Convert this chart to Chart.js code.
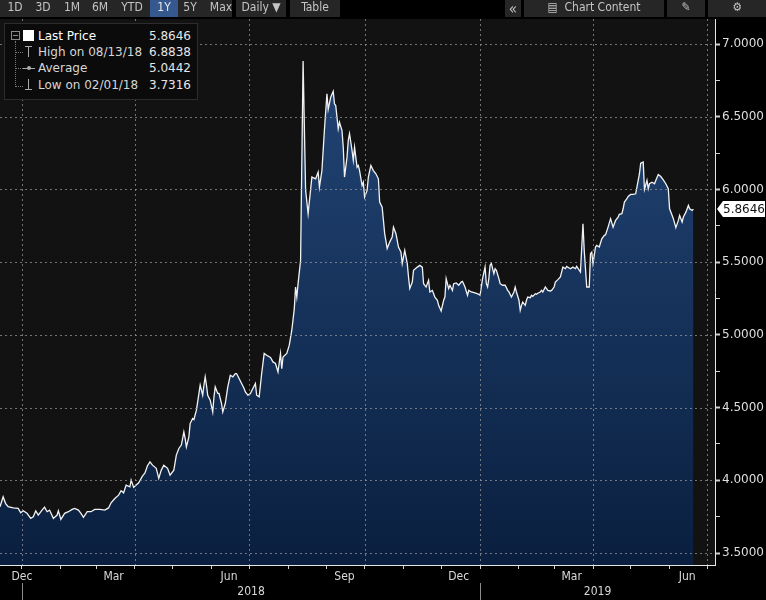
<!DOCTYPE html>
<html>
<head>
<meta charset="utf-8">
<script src="https://cdn.jsdelivr.net/npm/chart.js@4.4.1/dist/chart.umd.min.js"></script>
<style>
  html, body { margin: 0; padding: 0; background: #000; }
  #wrap { position: relative; width: 766px; height: 600px; overflow: hidden; }
  #chart { position: absolute; left: 0; top: 0; }
  .tb { position: absolute; top: 0; height: 17px; line-height: 17px; font: 12px 'Liberation Sans Narrow', 'DejaVu Sans Condensed', sans-serif; color: #c4c4c4; text-align: center; background: #262626; }
  .tb.on { background: #35588f; color: #e8e8e8; }
  #legend { position: absolute; left: 4px; top: 23px; width: 192px; height: 75px; background: #0b0b0b; border: 1px solid #2c2c2c; font: 12px 'DejaVu Sans', sans-serif; color: #d6d6d6; }
  #legend .row { position: absolute; left: 33px; right: 6px; height: 16px; line-height: 16px; }
  #legend .row span { position: absolute; right: 0; top: 0; color: #e6e6e6; }
  #legend .ic { position: absolute; }
</style>
</head>
<body>
<div id="wrap">
  <canvas id="chart" width="766" height="600"></canvas>

  <div class="tb" style="left:0;width:232px"></div>
  <div class="tb" style="left:5px;width:20px;background:none">1D</div>
  <div class="tb" style="left:33px;width:20px;background:none">3D</div>
  <div class="tb" style="left:62px;width:20px;background:none">1M</div>
  <div class="tb" style="left:90px;width:20px;background:none">6M</div>
  <div class="tb" style="left:120px;width:24px;background:none">YTD</div>
  <div class="tb on" style="left:150px;width:28px">1Y</div>
  <div class="tb" style="left:180px;width:20px;background:none">5Y</div>
  <div class="tb" style="left:208px;width:26px;background:none">Max</div>
  <div class="tb" style="left:236px;width:50px">Daily &#9660;</div>
  <div class="tb" style="left:290px;width:50px">Table</div>
  <div class="tb" style="left:505px;width:16px;font-size:15px">&laquo;</div>
  <div class="tb" style="left:524px;width:140px">&#9636;&nbsp; Chart Content</div>
  <div class="tb" style="left:667px;width:38px">&#9998;</div>
  <div class="tb" style="left:708px;width:58px">&#9881;</div>

  <div id="legend">
    <div class="ic" style="left:6px;top:7px;width:7px;height:7px;border:1px solid #8a8a8a"></div>
    <div class="ic" style="left:8px;top:11px;width:5px;height:1px;background:#8a8a8a"></div>
    <div class="ic" style="left:10px;top:17px;width:0;height:46px;border-left:1px dotted #777"></div>
    <div class="ic" style="left:10px;top:28px;width:8px;border-top:1px dotted #777"></div>
    <div class="ic" style="left:10px;top:44px;width:8px;border-top:1px dotted #777"></div>
    <div class="ic" style="left:10px;top:62px;width:8px;border-top:1px dotted #777"></div>
    <div class="ic" style="left:18px;top:6px;width:11px;height:11px;background:#fff"></div>
    <div class="ic" style="left:20px;top:22px;width:7px;height:1px;background:#aaa"></div>
    <div class="ic" style="left:23px;top:22px;width:1px;height:11px;background:#aaa"></div>
    <div class="ic" style="left:18px;top:44px;width:12px;height:1px;background:#aaa"></div>
    <div class="ic" style="left:22px;top:42px;width:4px;height:4px;border-radius:3px;background:#aaa"></div>
    <div class="ic" style="left:23px;top:55px;width:1px;height:11px;background:#aaa"></div>
    <div class="ic" style="left:20px;top:65px;width:7px;height:1px;background:#aaa"></div>
    <div class="row" style="top:4px;color:#fff">Last Price<span id="lgLast"></span></div>
    <div class="row" style="top:20px">High on <b id="lgHighD" style="font-weight:normal"></b><span id="lgHigh"></span></div>
    <div class="row" style="top:36px">Average<span id="lgAvg"></span></div>
    <div class="row" style="top:53px">Low on <b id="lgLowD" style="font-weight:normal"></b><span id="lgLow"></span></div>
  </div>
</div>

<script>
// days counted from 1 Jan 2018, price
const days = [
  -17.5, -15, -13, -11, -7, -3, -1, 1, 4, 7, 9, 11, 13, 16, 18, 20, 22, 25, 28, 29,
  31, 34, 37, 40, 42, 45, 47, 49, 52, 55, 58, 62, 66, 69, 71, 74, 77, 79, 81, 83,
  86, 87, 89, 91, 93, 96, 98, 100, 102, 104, 107, 109, 111, 113, 116, 118, 121, 123, 125, 127,
  129, 130, 131, 133, 134, 136, 137, 139, 140, 142, 144, 145, 146, 147, 148, 150, 152, 153, 154, 156,
  157, 159, 160, 162, 164, 166, 168, 170, 171, 173, 175, 177, 178, 180, 182, 184, 186, 187, 189, 191,
  193, 195, 198, 200, 202, 204, 206, 207, 208, 211, 213, 215, 217, 218, 219, 220, 222, 224, 226, 228,
  230, 231, 234, 236, 237, 239, 241, 243, 244, 246, 248, 249, 250, 252, 253, 255, 256, 257, 259, 260,
  261, 263, 264, 265, 267, 268, 269, 271, 272, 273, 275, 276, 278, 280, 282, 284, 285, 287, 288, 289,
  291, 293, 295, 296, 298, 300, 302, 303, 305, 307, 308, 309, 311, 312, 315, 317, 319, 320, 322, 324,
  325, 327, 329, 331, 332, 334, 336, 337, 338, 340, 341, 343, 344, 346, 348, 350, 351, 353, 355, 356,
  358, 361, 364, 365, 367, 369, 370, 371, 372, 373, 374, 376, 377, 378, 380, 381, 383, 385, 387, 388,
  390, 392, 393, 394, 396, 397, 398, 399, 401, 402, 403, 405, 406, 407, 409, 410, 411, 413, 414, 415,
  417, 418, 419, 421, 422, 424, 425, 427, 429, 431, 433, 434, 437, 439, 441, 442, 445, 447, 448, 450,
  452, 453, 454, 455, 457, 458, 460, 462, 464, 465, 467, 469, 471, 472, 473, 475, 476, 478, 479, 480,
  482, 483, 485, 487, 489, 490, 492, 493, 495, 496, 498, 499, 500, 502, 504, 505, 507, 509, 511, 513,
  515, 516, 518, 519, 521, 523, 524, 526, 527, 529, 531, 532, 534, 535
];
const prices = [
  3.818, 3.887, 3.840, 3.818, 3.810, 3.807, 3.777, 3.790, 3.773, 3.738, 3.749, 3.790, 3.761, 3.795, 3.815, 3.784, 3.795, 3.738, 3.761, 3.790,
  3.7316, 3.773, 3.784, 3.800, 3.807, 3.795, 3.772, 3.745, 3.784, 3.784, 3.800, 3.800, 3.795, 3.810, 3.845, 3.875, 3.898, 3.928, 3.914, 3.967,
  3.955, 4.001, 3.951, 3.967, 3.983, 4.029, 4.050, 4.100, 4.127, 4.104, 4.082, 4.013, 4.070, 4.104, 4.082, 4.036, 4.070, 4.173, 4.219, 4.242,
  4.333, 4.288, 4.230, 4.299, 4.390, 4.425, 4.418, 4.482, 4.539, 4.654, 4.585, 4.654, 4.711, 4.654, 4.585, 4.551, 4.470, 4.574, 4.642, 4.597,
  4.597, 4.528, 4.470, 4.528, 4.642, 4.722, 4.711, 4.734, 4.734, 4.700, 4.665, 4.631, 4.608, 4.585, 4.597, 4.631, 4.665, 4.585, 4.574, 4.734,
  4.872, 4.860, 4.844, 4.814, 4.803, 4.745, 4.872, 4.768, 4.848, 4.872, 4.929, 5.032, 5.180, 5.329, 5.260, 5.352, 5.512, 6.8838, 5.995, 5.833,
  6.000, 6.085, 6.073, 6.119, 6.016, 6.130, 6.410, 6.657, 6.550, 6.634, 6.675, 6.589, 6.577, 6.417, 6.462, 6.405, 6.290, 6.085, 6.222, 6.337,
  6.383, 6.268, 6.200, 6.290, 6.153, 6.165, 6.130, 6.027, 6.050, 5.947, 5.993, 6.085, 6.165, 6.130, 6.108, 6.073, 5.913, 5.878, 5.787, 5.696,
  5.594, 5.638, 5.672, 5.741, 5.696, 5.604, 5.569, 5.490, 5.581, 5.490, 5.398, 5.318, 5.363, 5.444, 5.466, 5.478, 5.466, 5.352, 5.329, 5.375,
  5.295, 5.306, 5.260, 5.238, 5.203, 5.164, 5.238, 5.260, 5.387, 5.318, 5.341, 5.306, 5.352, 5.357, 5.341, 5.363, 5.368, 5.329, 5.272, 5.306,
  5.295, 5.288, 5.279, 5.272, 5.387, 5.466, 5.352, 5.329, 5.387, 5.478, 5.490, 5.421, 5.455, 5.444, 5.387, 5.352, 5.341, 5.341, 5.306, 5.295,
  5.260, 5.295, 5.329, 5.295, 5.238, 5.169, 5.203, 5.226, 5.203, 5.238, 5.260, 5.256, 5.272, 5.265, 5.283, 5.279, 5.286, 5.295, 5.306, 5.295,
  5.329, 5.318, 5.306, 5.302, 5.306, 5.329, 5.363, 5.380, 5.398, 5.466, 5.455, 5.471, 5.455, 5.466, 5.455, 5.471, 5.432, 5.764, 5.581, 5.329,
  5.329, 5.558, 5.569, 5.490, 5.604, 5.615, 5.604, 5.661, 5.684, 5.688, 5.741, 5.799, 5.741, 5.764, 5.787, 5.810, 5.829, 5.833, 5.867, 5.913,
  5.936, 5.952, 5.966, 5.966, 5.970, 6.016, 6.108, 6.180, 6.188, 6.000, 6.062, 6.005, 6.039, 6.050, 6.039, 6.062, 6.103, 6.089, 6.066, 6.039,
  6.005, 5.867, 5.822, 5.799, 5.737, 5.787, 5.822, 5.776, 5.810, 5.844, 5.890, 5.867, 5.856, 5.8646
];

// legend figures as printed on the chart
const legendLabels = ['Last Price', 'High on 08/13/18', 'Average', 'Low on 02/01/18'];
const legendValues = [5.8646, 6.8838, 5.0442, 3.7316];

// axis labels
const yTicks = [3.5, 3.75, 4.0, 4.25, 4.5, 4.75, 5.0, 5.25, 5.5, 5.75, 6.0, 6.25, 6.5, 6.75, 7.0];
const monthNames = ['Dec', 'Mar', 'Jun', 'Sep', 'Dec', 'Mar', 'Jun'];
const monthLabelDates = [[2017, 11], [2018, 2], [2018, 5], [2018, 8], [2018, 11], [2019, 2], [2019, 5]];
const years = [2018, 2019];

const dayOf = (y, m, d) => (Date.UTC(y, m, d) - Date.UTC(2018, 0, 1)) / 864e5;

document.getElementById('lgLast').textContent = legendValues[0].toFixed(4);
document.getElementById('lgHighD').textContent = legendLabels[1].slice(8);
document.getElementById('lgHigh').textContent = legendValues[1].toFixed(4);
document.getElementById('lgAvg').textContent = legendValues[2].toFixed(4);
document.getElementById('lgLowD').textContent = legendLabels[3].slice(7);
document.getElementById('lgLow').textContent = legendValues[3].toFixed(4);

// month starts get a small tick, quarter starts a dashed grid line
const monthStarts = [];
for (let y = 2017; y <= 2019; y++) {
  for (let m = 0; m < 12; m++) monthStarts.push(dayOf(y, m, 1));
}
const quarterStarts = monthStarts.filter((d, i) => i % 3 === 0);
// labels sit mid month; the first (clipped) one is pushed to the year line
const monthLabelDays = monthLabelDates.map(([y, m]) => Math.max(dayOf(y, m, 15), 0));
const labelByDay = {};
monthLabelDays.forEach((d, i) => { labelByDay[d] = monthNames[i]; });
const xTickDays = [...new Set([...monthStarts, ...monthLabelDays])].sort((a, b) => a - b);

const narrowFont = "'Liberation Sans Narrow', 'DejaVu Sans Condensed', sans-serif";
const clear = 'rgba(0,0,0,0)';

const isMajorY = v => Math.abs(v * 2 - Math.round(v * 2)) < 1e-6;
const tickVal = c => (c && c.tick) ? c.tick.value : NaN;

const bgPlugin = {
  id: 'bg',
  beforeDraw(chart) {
    const { ctx, chartArea: ca } = chart;
    ctx.save();
    ctx.fillStyle = '#000';
    ctx.fillRect(0, 0, chart.width, chart.height);
    ctx.fillStyle = '#121212';
    ctx.fillRect(ca.left, ca.top, ca.right - ca.left, ca.bottom - ca.top);
    ctx.restore();
  }
};

// dashed grid drawn over the filled area, like the terminal does
const gridPlugin = {
  id: 'dashGrid',
  afterDatasetsDraw(chart) {
    const { ctx, chartArea: ca, scales: { x, y } } = chart;
    ctx.save();
    ctx.strokeStyle = 'rgba(150,150,150,0.75)';
    ctx.lineWidth = 1;
    ctx.setLineDash([2, 3]);
    ctx.beginPath();
    quarterStarts.filter(d => d > x.min && d < x.max).forEach(d => {
      const px = Math.round(x.getPixelForValue(d)) + 0.5;
      ctx.moveTo(px, ca.top);
      ctx.lineTo(px, ca.bottom);
    });
    yTicks.filter(isMajorY).forEach(v => {
      const py = Math.round(y.getPixelForValue(v)) + 0.5;
      ctx.moveTo(ca.left, py);
      ctx.lineTo(ca.right, py);
    });
    ctx.stroke();
    ctx.restore();
  }
};

const extrasPlugin = {
  id: 'extras',
  afterDraw(chart) {
    const { ctx, chartArea: ca, scales: { x, y } } = chart;
    ctx.save();
    // year row under the month labels
    ctx.font = '12px ' + narrowFont;
    ctx.fillStyle = '#d8d8d8';
    ctx.textAlign = 'center';
    ctx.textBaseline = 'middle';
    years.forEach(yr => {
      const a = Math.max(dayOf(yr, 0, 1), x.min);
      const b = Math.min(dayOf(yr + 1, 0, 1), x.max);
      ctx.fillText(String(yr), (x.getPixelForValue(a) + x.getPixelForValue(b)) / 2, 592);
      const sx = Math.round(x.getPixelForValue(dayOf(yr, 0, 1))) + 0.5;
      ctx.strokeStyle = '#8c8c8c';
      ctx.lineWidth = 1;
      ctx.beginPath();
      ctx.moveTo(sx, 583);
      ctx.lineTo(sx, 600);
      ctx.stroke();
    });
    // last price tag on the right axis
    const last = prices[prices.length - 1];
    const py = Math.round(y.getPixelForValue(last));
    const x0 = ca.right + 2;
    ctx.fillStyle = '#fff';
    ctx.beginPath();
    ctx.moveTo(x0, py);
    ctx.lineTo(x0 + 6, py - 8);
    ctx.lineTo(chart.width - 1, py - 8);
    ctx.lineTo(chart.width - 1, py + 8);
    ctx.lineTo(x0 + 6, py + 8);
    ctx.closePath();
    ctx.fill();
    ctx.fillStyle = '#111';
    ctx.font = "12px 'DejaVu Sans', sans-serif";
    ctx.textAlign = 'left';
    ctx.fillText(last.toFixed(4), x0 + 6, py + 1);
    ctx.restore();
  }
};

new Chart(document.getElementById('chart'), {
  type: 'line',
  data: {
    datasets: [{
      data: days.map((d, i) => ({ x: d, y: prices[i] })),
      borderColor: '#f2f2f2',
      borderWidth: 1.3,
      pointRadius: 0,
      tension: 0,
      fill: 'start',
      backgroundColor: (c) => {
        const ca = c.chart.chartArea;
        if (!ca) return '#14345a';
        const g = c.chart.ctx.createLinearGradient(0, ca.top, 0, ca.bottom);
        g.addColorStop(0, '#24487a');
        g.addColorStop(1, '#0a1f3f');
        return g;
      }
    }]
  },
  options: {
    responsive: false,
    animation: false,
    devicePixelRatio: 1,
    layout: { padding: { top: 19, left: 0, right: 0, bottom: 0 } },
    plugins: { legend: { display: false }, tooltip: { enabled: false } },
    scales: {
      x: {
        type: 'linear',
        min: -17.5,
        max: 552.2,
        afterBuildTicks: (s) => {
          s.ticks = xTickDays.filter(d => d >= s.min && d <= s.max).map(v => ({ value: v }));
        },
        afterFit: (s) => { s.height = 35; },
        grid: {
          drawOnChartArea: false,
          color: clear,
          tickColor: (c) => monthStarts.includes(tickVal(c)) ? '#d0d0d0' : clear,
          tickLength: 4
        },
        border: { color: '#e6e6e6', width: 1 },
        ticks: {
          autoSkip: false,
          maxRotation: 0,
          padding: 1,
          color: '#d8d8d8',
          font: { family: narrowFont, size: 12 },
          callback: (v) => labelByDay[v] || ''
        }
      },
      y: {
        position: 'right',
        min: 3.4175,
        max: 7.172,
        afterBuildTicks: (s) => { s.ticks = yTicks.map(v => ({ value: v })); },
        afterFit: (s) => { s.width = 51; },
        grid: {
          drawOnChartArea: false,
          color: clear,
          tickColor: '#d0d0d0',
          tickWidth: (c) => isMajorY(tickVal(c)) ? 2 : 1,
          tickLength: 5
        },
        border: { color: '#e6e6e6', width: 1 },
        ticks: {
          autoSkip: false,
          padding: 2,
          color: '#dedede',
          font: { family: 'DejaVu Sans', size: 12 },
          callback: (v) => isMajorY(v) ? v.toFixed(4) : ''
        }
      }
    }
  },
  plugins: [bgPlugin, gridPlugin, extrasPlugin]
});
</script>
</body>
</html>
